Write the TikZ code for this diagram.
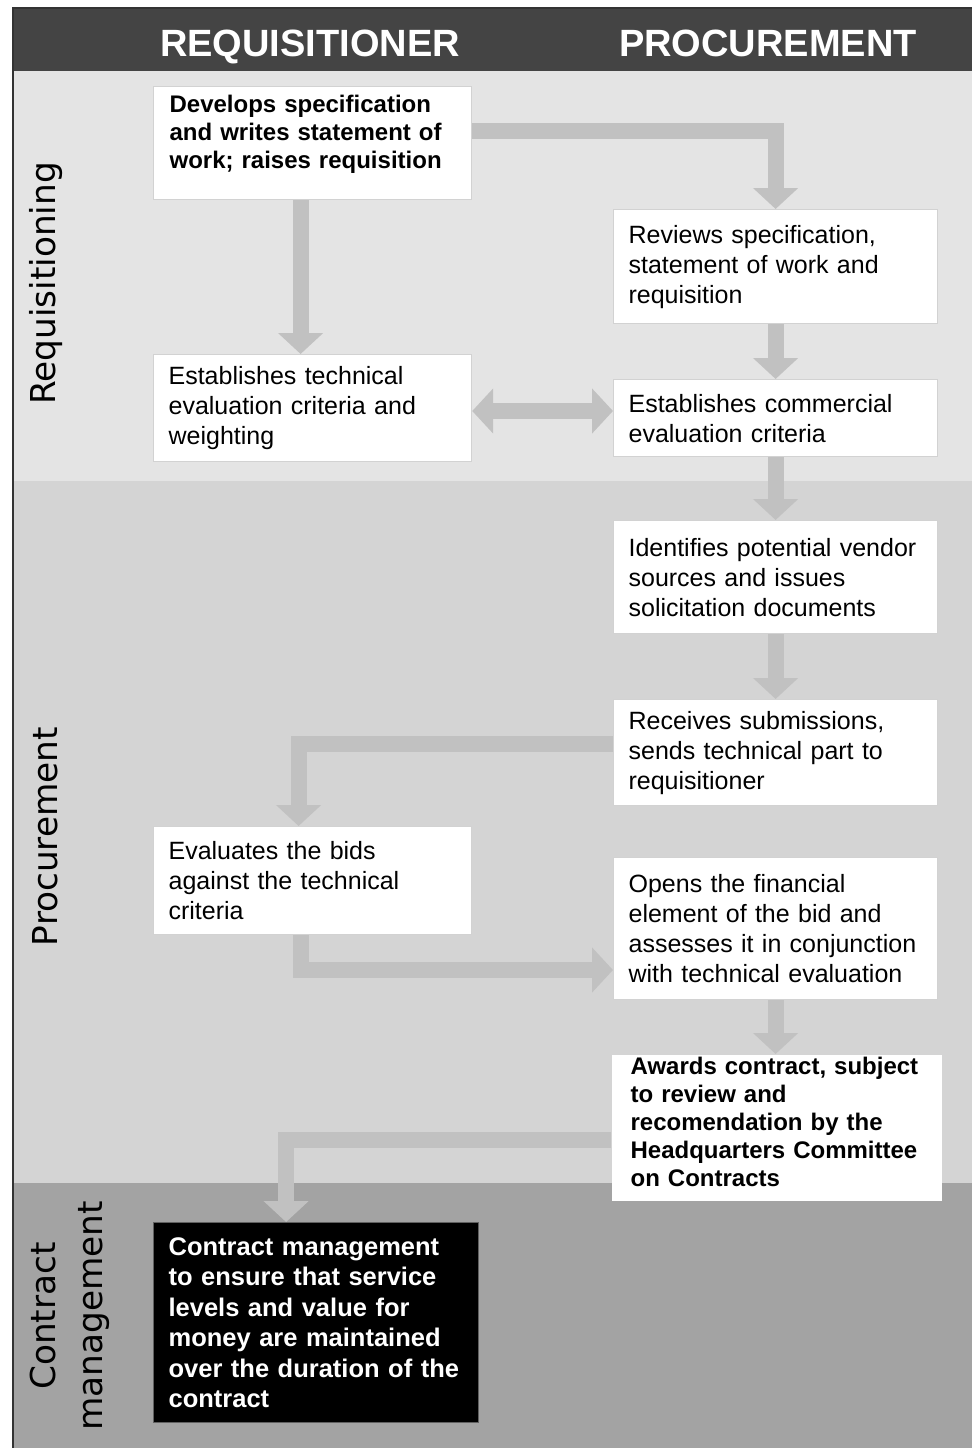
\documentclass[tikz,border=0pt]{standalone}
\usepackage{fontspec}
\setmainfont{Liberation Sans}
\newfontfamily\lanefont{DejaVu Sans}
\usetikzlibrary{arrows.meta,calc}
\definecolor{hdr}{HTML}{444444}
\definecolor{reqband}{HTML}{E4E4E4}
\definecolor{procband}{HTML}{D4D4D4}
\definecolor{cmband}{HTML}{A3A3A3}
\definecolor{arrowgray}{HTML}{C1C1C1}
\definecolor{boxline}{HTML}{D2D2D2}
\definecolor{framecol}{HTML}{333333}
\tikzset{bigtip/.tip={Triangle[length=21pt,width=44pt]}}
\begin{document}
\begin{tikzpicture}[x=1pt,y=-1pt,
  box/.style={draw=boxline, line width=1.2pt, fill=white, anchor=north west,
    align=left, inner xsep=15pt, inner ysep=0pt, text=black,
    font=\fontsize{25}{30}\selectfont},
  boldbox/.style={box, font=\fontsize{24}{28}\selectfont\bfseries},
  flow/.style={draw=arrowgray, line width=16pt, -bigtip},
  lane/.style={rotate=90, font=\lanefont\fontsize{34.3}{47}\selectfont, text=black, align=center},
  hdrtext/.style={anchor=base, text=white, font=\fontsize{38}{40}\selectfont\bfseries}]
\useasboundingbox (0,0) rectangle (972,1448);
\fill[white] (0,0) rectangle (972,1448);
\fill[hdr] (12,7) rectangle (972,71);
\fill[reqband] (12,71) rectangle (972,481);
\fill[procband] (12,481) rectangle (972,1183);
\fill[cmband] (12,1183) rectangle (972,1448);
\draw[framecol, line width=1.5pt] (12.75,1448) -- (12.75,7.75) -- (972,7.75);

\node[hdrtext] (hReq) at (310,56) {REQUISITIONER};
\node[hdrtext] (hProc) at (768,56) {PROCUREMENT};

\node[lane] (lReq) at (46,283.5) {Requisitioning};
\node[lane] (lProc) at (45,836.5) {Procurement};
\node[lane] (lCM) at (70,1316) {Contract\\management};

\coordinate (y411) at (0,411);
\coordinate (y744) at (0,744);
\coordinate (y970) at (0,970);
\coordinate (y1140) at (0,1140);

\node[boldbox, inner xsep=16pt, text width=286pt, minimum height=113pt] (b1) at (153,86)
  {Develops specification\\and writes statement of\\work; raises requisition\par\kern-6pt\hbox{}};
\node[box, text width=294pt, minimum height=114pt] (b2) at (613,209)
  {Reviews specification,\\statement of work and\\requisition};
\node[box, text width=288pt, minimum height=107pt] (b3) at (153,354)
  {Establishes technical\\evaluation criteria and\\weighting};
\node[box, text width=294pt, minimum height=77pt] (b4) at (613,379)
  {Establishes commercial\\evaluation criteria};
\node[box, text width=294pt, minimum height=113pt] (b5) at (613,520)
  {Identifies potential vendor\\sources and issues\\solicitation documents};
\node[box, text width=294pt, minimum height=106pt] (b6) at (613,699)
  {Receives submissions,\\sends technical part to\\requisitioner};
\node[box, text width=288pt, minimum height=108pt] (b7) at (153,826)
  {Evaluates the bids\\against the technical\\criteria};
\node[box, text width=294pt, minimum height=142pt] (b8) at (613,857)
  {Opens the financial\\element of the bid and\\assesses it in conjunction\\with technical evaluation};
\node[boldbox, draw=none, inner xsep=19pt, text width=292pt, minimum height=146pt] (b9) at (611,1054)
  {Awards contract, subject\\to review and\\recomendation by the\\Headquarters Committee\\on Contracts\par\kern-16pt\hbox{}};
\node[box, draw=gray!75!black, fill=black, text=white, text width=295pt, minimum height=200pt,
  font=\fontsize{25.5}{30.5}\selectfont\bfseries] (b10) at (153,1222)
  {Contract management\\to ensure that service\\levels and value for\\money are maintained\\over the duration of the\\contract};

\draw[flow] ([yshift=12pt]b1.east) -| (b2.north);
\draw[flow] ([xshift=-12pt]b1.south) -- ([xshift=-12pt]b3.north);
\draw[flow] (b2.south) -- (b4.north);
\draw[flow, bigtip-bigtip] (b3.east |- y411) -- (b4.west |- y411);
\draw[flow] (b4.south) -- (b5.north);
\draw[flow] (b5.south) -- (b6.north);
\draw[flow] (b6.west |- y744) -| ([xshift=-14pt]b7.north);
\draw[flow] ([xshift=-12pt]b7.south) |- (b8.west |- y970);
\draw[flow] (b8.south) -- (b8.south |- b9.north);
\draw[flow] (b9.west |- y1140) -| ([xshift=-30pt]b10.north);
\end{tikzpicture}
\end{document}
